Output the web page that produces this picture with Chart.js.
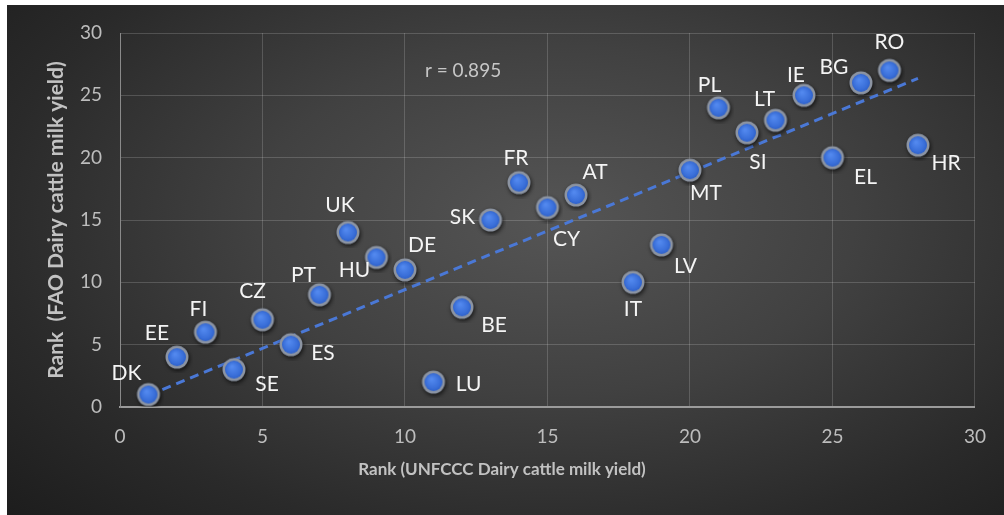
<!DOCTYPE html>
<html>
<head>
<meta charset="utf-8">
<title>UNFCCC vs FAO dairy cattle milk yield rank</title>
<script src="https://cdn.jsdelivr.net/npm/chart.js@4.4.0/dist/chart.umd.js"></script>
<style>
    html, body { margin: 0; padding: 0; background: #ffffff; }
    #bg {
        position: absolute; left: 7px; top: 5px; width: 997px; height: 510px;
        background: radial-gradient(ellipse 75% 85% at 55% 42%, #555555 0%, #414141 40%, #2a2a2a 75%, #1d1d1d 100%);
    }
    #wrap { position: absolute; left: 0; top: 0; width: 1004px; height: 515px; }
</style>
</head>
<body>
<div id="bg"></div>
<div id="wrap"><canvas id="chart" width="1004" height="515"></canvas></div>
<script>
// Data
const countries   = ['DK', 'EE', 'FI', 'SE', 'CZ', 'ES', 'PT', 'UK', 'HU', 'DE', 'LU', 'BE', 'SK', 'FR',
                     'CY', 'AT', 'IT', 'LV', 'MT', 'PL', 'SI', 'LT', 'IE', 'EL', 'BG', 'RO', 'HR'];
const unfcccRank  = [1, 2, 3, 4, 5, 6, 7, 8, 9, 10, 11, 12, 13, 14, 15, 16, 18, 19, 20, 21, 22, 23, 24, 25, 26, 27, 28];
const faoRank     = [1, 4, 6, 3, 7, 5, 9, 14, 12, 11, 2, 8, 15, 18, 16, 17, 10, 13, 19, 24, 22, 23, 25, 20, 26, 27, 21];
const axisMin = 0;
const axisMax = 30;
const axisStep = 5;
const corrLabel = 'r = 0.895';
const xTitle = 'Rank (UNFCCC Dairy cattle milk yield)';
const yTitle = 'Rank  (FAO Dairy cattle milk yield)';

// where each country label sits relative to its dot (px)
const labelOffset = {
    DK: [-22, -21], EE: [-20, -24], FI: [-7, -23], SE: [33, 15], CZ: [-10, -28], ES: [32, 9],
    PT: [-16, -20], UK: [-8, -27], HU: [-22, 13], DE: [17, -25], LU: [35, 2], BE: [32, 18],
    SK: [-28, -3], FR: [-3, -24], CY: [19, 32], AT: [19, -23], IT: [0, 27], LV: [24, 21],
    MT: [16, 23], PL: [-9, -23], SI: [11, 30], LT: [-11, -21], IE: [-8, -20], EL: [33, 20],
    BG: [-27, -16], RO: [0, -28], HR: [28, 18]
};

const points = unfcccRank.map(function(x, i) { return { x: x, y: faoRank[i] }; });

// trendline through the origin (least squares, intercept fixed at 0)
let sxy = 0, sxx = 0;
unfcccRank.forEach(function(x, i) { sxy += x * faoRank[i]; sxx += x * x; });
const slope = sxy / sxx;
const xLo = Math.min.apply(null, unfcccRank);
const xHi = Math.max.apply(null, unfcccRank);
const trend = [{ x: xLo, y: slope * xLo }, { x: xHi, y: slope * xHi }];

function makeDot() {
    const size = 32;
    const c = document.createElement('canvas');
    c.width = size; c.height = size;
    const g = c.getContext('2d');
    const cx = 16, cy = 16;
    g.shadowColor = 'rgba(0,0,0,0.7)';
    g.shadowBlur = 4;
    g.shadowOffsetX = 1;
    g.shadowOffsetY = 2;
    g.beginPath();
    g.arc(cx, cy, 11.5, 0, Math.PI * 2);
    g.fillStyle = '#8c94a2';
    g.fill();
    g.shadowColor = 'transparent';
    const grad = g.createRadialGradient(cx - 2, cy - 3, 1, cx, cy, 9.5);
    grad.addColorStop(0, '#5288ee');
    grad.addColorStop(0.7, '#3a6fd9');
    grad.addColorStop(1, '#2c5fc8');
    g.beginPath();
    g.arc(cx, cy, 9, 0, Math.PI * 2);
    g.fillStyle = grad;
    g.fill();
    return c;
}

const FONT = 'Lato, "Open Sans", sans-serif';

const extrasPlugin = {
    id: 'extras',
    afterDatasetsDraw: function(chart) {
        const ctx = chart.ctx;
        const meta = chart.getDatasetMeta(1);
        ctx.save();
        ctx.font = '21px ' + FONT;
        ctx.fillStyle = '#f4f4f4';
        ctx.textAlign = 'center';
        ctx.textBaseline = 'middle';
        meta.data.forEach(function(el, i) {
            const off = labelOffset[countries[i]] || [0, -24];
            ctx.fillText(countries[i], el.x + off[0], el.y + off[1]);
        });

        // correlation note
        const xs = chart.scales.x, ys = chart.scales.y;
        ctx.font = '19px ' + FONT;
        ctx.fillStyle = '#c6c6c6';
        ctx.textAlign = 'left';
        ctx.fillText(corrLabel, xs.getPixelForValue(10.7), ys.getPixelForValue(27.0));

        // x axis title
        ctx.font = 'bold 17px ' + FONT;
        ctx.fillStyle = '#c2c2c2';
        ctx.textAlign = 'center';
        ctx.fillText(xTitle, 502, 470);
        ctx.restore();
    }
};

new Chart(document.getElementById('chart'), {
    type: 'scatter',
    data: {
        datasets: [{
            type: 'line',
            label: 'Trend',
            data: trend,
            borderColor: '#4a78d6',
            borderWidth: 3,
            borderDash: [9, 6],
            pointRadius: 0,
            fill: false,
            order: 2
        }, {
            label: 'Rank',
            data: points,
            pointStyle: makeDot(),
            pointRadius: 11,
            order: 1
        }]
    },
    options: {
        responsive: false,
        animation: false,
        layout: { padding: { left: 44, top: 33, right: 27, bottom: 0 } },
        plugins: {
            legend: { display: false },
            tooltip: { enabled: false }
        },
        scales: {
            x: {
                type: 'linear',
                min: axisMin,
                max: axisMax,
                afterFit: function(scale) { scale.height = 108; },
                grid: { color: 'rgba(255,255,255,0.17)', drawTicks: false },
                border: { color: '#9b9b9b', width: 2 },
                ticks: {
                    stepSize: axisStep,
                    padding: 18,
                    color: '#bdbdbd',
                    font: { family: FONT, size: 19 }
                }
            },
            y: {
                type: 'linear',
                min: axisMin,
                max: axisMax,
                afterFit: function(scale) { scale.width = 76; },
                grid: { color: 'rgba(255,255,255,0.17)', drawTicks: false },
                border: { color: '#8a8a8a', width: 1 },
                ticks: {
                    stepSize: axisStep,
                    padding: 18,
                    color: '#bdbdbd',
                    font: { family: FONT, size: 19 }
                },
                title: {
                    display: true,
                    text: yTitle,
                    color: '#c2c2c2',
                    padding: 0,
                    font: { family: FONT, size: 21, weight: 'bold' }
                }
            }
        }
    },
    plugins: [extrasPlugin]
});
</script>
</body>
</html>
